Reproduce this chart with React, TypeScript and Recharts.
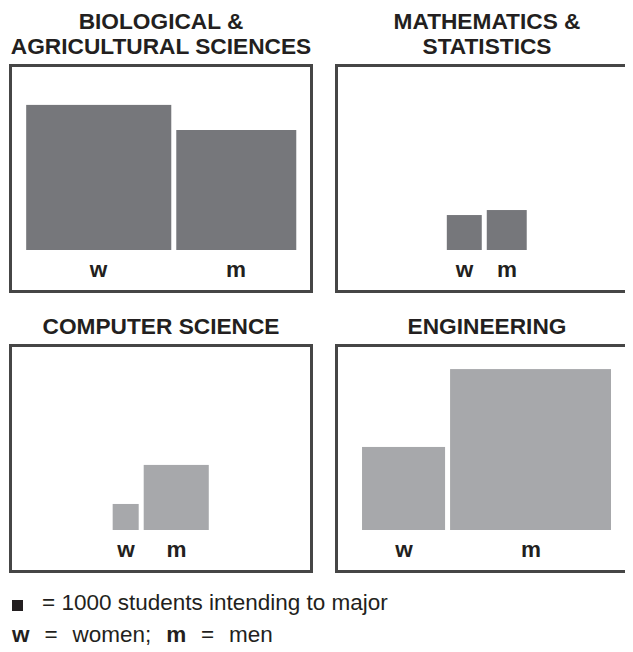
import React from 'react';
import { BarChart, Bar, XAxis, YAxis } from 'recharts';

// thousands of students intending to major
const fields = ['BIOLOGICAL &\nAGRICULTURAL SCIENCES', 'MATHEMATICS &\nSTATISTICS', 'COMPUTER SCIENCE', 'ENGINEERING'];
const women = [174, 10.1, 5.6, 57];
const men = [119, 13.2, 35, 214];
const groupLabels = ['w', 'm'];
const fills = ['#76777b', '#76777b', '#a7a8ab', '#a7a8ab'];

const FONT = '"Liberation Sans", Arial, Helvetica, sans-serif';
const INK = '#231f20';
const PX_PER_UNIT = 11; // side of the square for 1000 students
const GAP_PX = 5;
const FRAME_W = 304;
const FRAME_H = 229;
const BORDER = 3;
const AXIS_H = 40;
const PLOT_W = FRAME_W - 2 * BORDER;
const PLOT_H = FRAME_H - 2 * BORDER - AXIS_H;

function Panel({ index, left, top }: { index: number; left: number; top: number }) {
  // square side in sqrt(thousand) units, so area is proportional to count
  const sides = [Math.sqrt(women[index]), Math.sqrt(men[index])];
  const gap = GAP_PX / PX_PER_UNIT;
  const total = sides[0] + gap + sides[1];
  const centers = [-total / 2 + sides[0] / 2, total / 2 - sides[1] / 2];
  const data = groupLabels.map((g, i) => ({ g, x: centers[i], side: sides[i] }));
  const halfW = PLOT_W / PX_PER_UNIT / 2;
  const topY = PLOT_H / PX_PER_UNIT;
  const fill = fills[index];
  const lines = fields[index].split('\n');

  return (
    <>
      <div
        style={{
          position: 'absolute',
          left,
          top: top - 5 - lines.length * 25,
          width: FRAME_W,
          textAlign: 'center',
          fontSize: 22.7,
          lineHeight: '25px',
          fontWeight: 700,
          color: INK,
        }}
      >
        {lines.map((l) => (
          <div key={l}>{l}</div>
        ))}
      </div>
      <div
        style={{
          position: 'absolute',
          left,
          top,
          width: FRAME_W - 2 * BORDER,
          height: FRAME_H - 2 * BORDER,
          border: `${BORDER}px solid #464646`,
        }}
      >
        <BarChart
          width={PLOT_W}
          height={FRAME_H - 2 * BORDER}
          data={data}
          margin={{ top: 0, right: 0, bottom: 0, left: 0 }}
          barSize={2}
        >
          <XAxis
            dataKey="x"
            type="number"
            domain={[-halfW, halfW]}
            ticks={centers}
            interval={0}
            tickFormatter={(_v: number, i: number) => groupLabels[i]}
            axisLine={false}
            tickLine={false}
            tickSize={0}
            tickMargin={11}
            height={AXIS_H}
            allowDataOverflow
            tick={{ fontSize: 22.5, fontWeight: 700, fill: INK, fontFamily: FONT }}
          />
          <YAxis hide type="number" domain={[0, topY]} allowDataOverflow />
          <Bar
            dataKey="side"
            isAnimationActive={false}
            shape={(p: any) => (
              <rect
                x={p.x + p.width / 2 - p.height / 2}
                y={p.y}
                width={p.height}
                height={p.height}
                fill={fill}
              />
            )}
          />
        </BarChart>
      </div>
    </>
  );
}

export default function App() {
  return (
    <div
      style={{
        position: 'relative',
        width: 625,
        height: 644,
        overflow: 'hidden',
        fontFamily: FONT,
        color: INK,
      }}
    >
      <Panel index={0} left={1} top={56} />
      <Panel index={1} left={327} top={56} />
      <Panel index={2} left={1} top={336} />
      <Panel index={3} left={327} top={336} />

      <div style={{ position: 'absolute', left: 4, top: 592, width: 11, height: 11, background: INK }} />
      <div style={{ position: 'absolute', left: 34, top: 583, fontSize: 22.5, lineHeight: '24px', whiteSpace: 'pre' }}>
        = 1000 students intending to major
      </div>
      <div
        style={{
          position: 'absolute',
          left: 4,
          top: 615,
          fontSize: 22.5,
          lineHeight: '24px',
          whiteSpace: 'pre',
          wordSpacing: 1.2,
        }}
      >
        <b>w</b>{'  =  women;  '}<b>m</b>{'  =  men'}
      </div>
    </div>
  );
}
